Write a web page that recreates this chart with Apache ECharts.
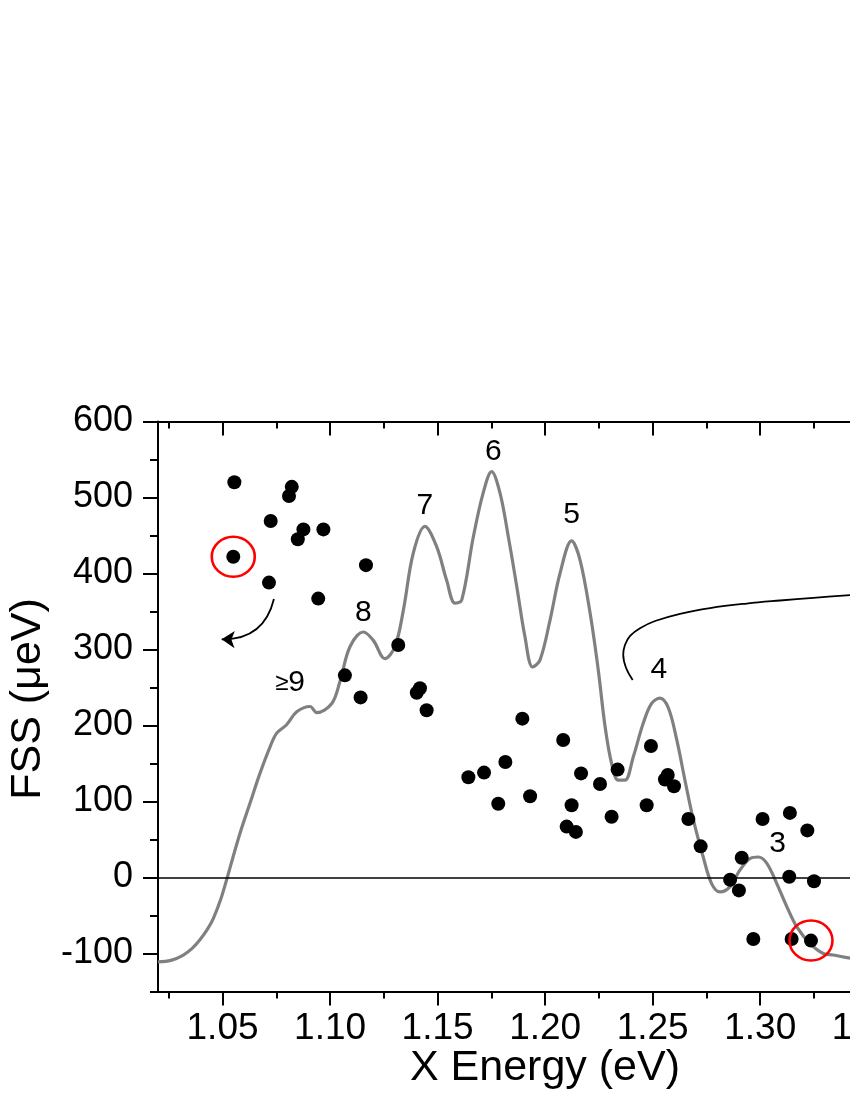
<!DOCTYPE html>
<html>
<head>
<meta charset="utf-8">
<script src="https://cdn.jsdelivr.net/npm/echarts@6/dist/echarts.min.js"></script>
<style>
html,body{margin:0;padding:0;background:#fff;}
#chart{width:850px;height:1100px;}
</style>
</head>
<body>
<div id="chart"></div>
<script>
// ---- axis ranges and ticks ----
const xMin = 1.02, xMax = 1.36, yMin = -150, yMax = 600;
const xMajorTicks = [1.05, 1.10, 1.15, 1.20, 1.25, 1.30, 1.35];
const xMinorTicks = [1.025, 1.075, 1.125, 1.175, 1.225, 1.275, 1.325];
const yMajorTicks = [-100, 0, 100, 200, 300, 400, 500, 600];
const yMinorTicks = [-150, -50, 50, 150, 250, 350, 450, 550];

// ---- measured FSS points (x: eV, y: µeV) ----
const fssPoints = [
  [1.0555,520],[1.0822,514],[1.0809,502],[1.0724,469],[1.0876,458],[1.0850,445],[1.0969,458],
  [1.0550,422],[1.0716,388],[1.1167,411],[1.0945,367],[1.1317,306],[1.1069,266],[1.1142,237],
  [1.1418,249],[1.1403,243],[1.1449,220],[1.1894,209],[1.2084,181],[1.1815,152],[1.1716,138],
  [1.1643,132],[1.2167,137],[1.2337,142],[1.2255,123],[1.2492,173],[1.2570,135],[1.2557,129],
  [1.2599,120],[1.1930,107],[1.1782,97],[1.2123,95],[1.2472,95],[1.2309,80],[1.2100,67],
  [1.2143,60],[1.2666,77],[1.2723,41],[1.3011,77],[1.3138,85],[1.3219,62],[1.2914,26],
  [1.2860,-3],[1.2901,-17],[1.3135,1],[1.3250,-5],[1.2968,-81],[1.3146,-81],[1.3236,-83]
];

// ---- highlighted (circled) points ----
const circledPoints = [[1.0550,422],[1.3236,-83]];

// ---- gray model curve ----
const modelCurve = [
  [1.0200,-111],[1.0260,-109],[1.0318,-102],[1.0360,-93],[1.0395,-82],[1.0430,-68],[1.0457,-54],
  [1.0490,-30],[1.0519,-3],[1.0550,28],[1.0581,58],[1.0628,98],
  [1.0674,137],[1.0721,172],[1.0752,190],[1.0798,201],[1.0845,218],[1.0907,225],[1.0938,217],
  [1.1008,229],[1.1046,258],[1.1093,304],[1.1155,323],[1.1201,312],[1.1255,288],[1.1302,304],
  [1.1341,352],[1.1387,427],[1.1441,462],[1.1496,435],[1.1542,391],[1.1581,361],[1.1612,365],
  [1.1666,448],[1.1712,506],[1.1751,534],[1.1790,506],[1.1829,448],[1.1868,383],[1.1906,317],
  [1.1942,277],[1.1976,286],[1.2023,339],[1.2069,400],[1.2123,443],[1.2162,418],[1.2209,348],
  [1.2247,273],[1.2278,200],[1.2309,150],[1.2340,128],[1.2371,128],[1.2410,159],[1.2456,203],
  [1.2495,229],[1.2534,236],[1.2573,223],[1.2612,181],[1.2650,128],[1.2689,76],[1.2735,27],
  [1.2774,-8],[1.2813,-19],[1.2860,-12],[1.2906,10],[1.2953,25],[1.2991,27],[1.3030,19],
  [1.3077,-8],[1.3123,-38],[1.3170,-65],[1.3232,-87],[1.3293,-100],[1.3340,-102],[1.3418,-106],
  [1.3600,-110]
];

// ---- thin black guide curve ----
const guideCurve = [
  [1.2407,260],[1.2376,276],[1.2363,293],[1.2371,306],[1.2395,318],[1.2441,328],[1.2511,337.5],
  [1.2627,347],[1.2767,354.5],[1.2937,360.5],[1.3092,364.5],[1.3247,368],[1.3464,372.5]
];

// ---- curved arrow (start, tip) ----
const arrowCoords = [[1.0739,366.4],[1.0496,313.4]];

// ---- peak annotations ----
const annotText = ['\u22659','8','7','6','5','4','3'];
const annotX = [1.0814,1.1155,1.1441,1.1759,1.2123,1.2529,1.3081];
const annotY = [256,348,489,560,477,273,45];

const FONT = '"Liberation Sans", Arial, Helvetica, sans-serif';
const pxPerX = 2150.8;
const gridLeft = 158, gridTop = 421.5, gridHeight = 570;
const gridWidth = (xMax - xMin) * pxPerX;

const chart = echarts.init(document.getElementById('chart'), null, {renderer: 'canvas'});

function xAxisCfg(pos, ticks, len, inside, showLine, showLabel) {
  return {
    type: 'value', position: pos, min: xMin, max: xMax, gridIndex: 0,
    axisLine: {show: showLine, onZero: false, lineStyle: {color: '#000', width: 2}},
    axisTick: {show: true, inside: inside, length: len, customValues: ticks, lineStyle: {color: '#000', width: 2}},
    axisLabel: {show: showLabel, customValues: ticks, margin: 19, color: '#000', fontSize: 37, fontFamily: FONT,
      formatter: v => Number(v).toFixed(2)},
    splitLine: {show: false}
  };
}
function yAxisCfg(ticks, len, showLine, showLabel) {
  return {
    type: 'value', position: 'left', min: yMin, max: yMax, gridIndex: 0,
    axisLine: {show: showLine, onZero: false, lineStyle: {color: '#000', width: 2}},
    axisTick: {show: true, inside: false, length: len, customValues: ticks, lineStyle: {color: '#000', width: 2}},
    axisLabel: {show: showLabel, customValues: ticks, margin: 25, color: '#000', fontSize: 36, fontFamily: FONT},
    splitLine: {show: false}
  };
}

const annotData = annotText.map((t, i) => ({name: t, value: [annotX[i], annotY[i]]}));

chart.setOption({
  animation: false,
  backgroundColor: '#fff',
  grid: {left: gridLeft, top: gridTop, width: gridWidth, height: gridHeight, containLabel: false, outerBoundsMode: 'none'},
  xAxis: [
    xAxisCfg('bottom', xMajorTicks, 14, false, true, true),
    xAxisCfg('bottom', xMinorTicks, 7, false, false, false),
    xAxisCfg('top', xMajorTicks, 14, true, true, false),
    xAxisCfg('top', xMinorTicks, 7, true, false, false)
  ],
  yAxis: [
    yAxisCfg(yMajorTicks, 15, true, true),
    yAxisCfg(yMinorTicks, 8, false, false)
  ],
  series: [
    {
      type: 'line', name: 'zero', data: [], silent: true,
      markLine: {silent: true, symbol: ['none', 'none'], label: {show: false},
        lineStyle: {color: '#000', width: 1.5, type: 'solid', opacity: 1}, data: [{yAxis: 0}]}
    },
    {
      type: 'line', name: 'model', data: modelCurve, smooth: 0.35, showSymbol: false, symbol: 'none',
      lineStyle: {color: '#808080', width: 3.2, opacity: 1}, z: 2
    },
    {
      type: 'line', name: 'guide', data: guideCurve, smooth: 0.4, showSymbol: false, symbol: 'none',
      lineStyle: {color: '#000', width: 1.8, opacity: 1}, z: 2
    },
    {
      type: 'lines', coordinateSystem: 'cartesian2d', polyline: false,
      symbol: ['none', 'arrow'], symbolSize: 13,
      itemStyle: {color: '#000', opacity: 1},
      lineStyle: {color: '#000', width: 1.8, curveness: 0.4, opacity: 1},
      data: [{coords: arrowCoords}], z: 3
    },
    {
      type: 'scatter', name: 'FSS', data: fssPoints, symbol: 'circle', symbolSize: 14,
      itemStyle: {color: '#000', opacity: 1}, z: 4
    },
    {
      type: 'scatter', name: 'circled', data: circledPoints, symbol: 'circle', symbolSize: [43, 40],
      itemStyle: {color: 'rgba(0,0,0,0)', borderColor: '#ff0000', borderWidth: 2.5, opacity: 1}, z: 5
    },
    {
      type: 'scatter', name: 'labels', data: annotData, symbolSize: 1,
      itemStyle: {color: 'rgba(0,0,0,0)', opacity: 1}, z: 6,
      label: {
        show: true, position: 'inside', color: '#000', opacity: 1, fontSize: 30, fontFamily: FONT,
        formatter: p => p.name === '\u22659' ? '{s|\u2265}{b|9}' : p.name,
        rich: {s: {fontSize: 24, fontFamily: FONT, color: '#000'}, b: {fontSize: 30, fontFamily: FONT, color: '#000'}}
      }
    }
  ],
  graphic: [
    {type: 'text', x: 545, y: 1068, style: {text: 'X Energy (eV)', fontSize: 43, fontFamily: FONT, fill: '#000', align: 'center', verticalAlign: 'middle'}},
    {type: 'text', x: 28, y: 699, rotation: Math.PI / 2, style: {text: 'FSS (\u03bceV)', fontSize: 43, fontFamily: FONT, fill: '#000', align: 'center', verticalAlign: 'middle'}}
  ]
});
</script>
</body>
</html>
